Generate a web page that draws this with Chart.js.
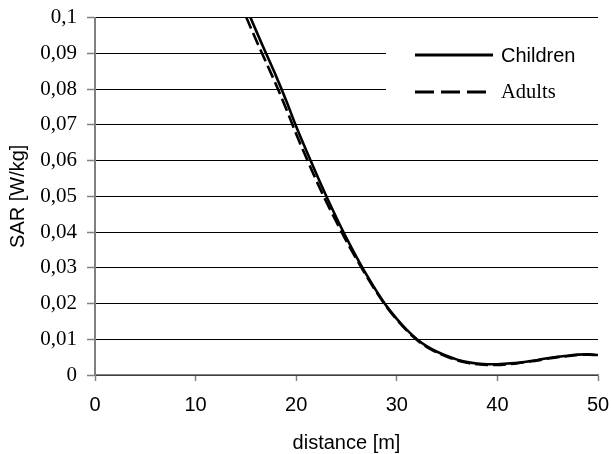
<!DOCTYPE html>
<html lang="en">
<head>
    <meta charset="UTF-8">
    <title>SAR vs distance</title>
    <script src="https://cdn.jsdelivr.net/npm/chart.js"></script>
    <style>
        html, body {
            margin: 0;
            padding: 0;
            background: #fff;
        }
        #wrap {
            width: 611px;
            height: 454px;
        }
    </style>
</head>
<body>
    <div id="wrap"><canvas id="sarChart"></canvas></div>

    <script>
        // values
        const distance = [15, 16, 17, 18, 19, 20, 21, 22, 23, 24, 25, 26, 27, 28, 29, 30, 31, 32,
                          33, 34, 35, 36, 37, 38, 39, 40, 41, 42, 43, 44, 45, 46, 47, 48, 49, 50];
        const children = [0.1030, 0.0964, 0.0900, 0.0836, 0.0768, 0.0695, 0.0628, 0.0563, 0.0500,
                          0.0440, 0.0383, 0.0330, 0.0280, 0.0234, 0.0192, 0.0157, 0.0126, 0.0100,
                          0.0080, 0.0065, 0.0053, 0.0043, 0.0036, 0.0032, 0.0030, 0.0030, 0.0032,
                          0.0034, 0.0038, 0.0042, 0.0047, 0.0051, 0.0054, 0.0057, 0.0058, 0.0056];
        const adults = [0.1003, 0.0938, 0.0875, 0.0812, 0.0745, 0.0674, 0.0608, 0.0544, 0.0484,
                        0.0428, 0.0374, 0.0324, 0.0276, 0.0231, 0.0190, 0.0155, 0.0124, 0.0098,
                        0.0078, 0.0063, 0.0051, 0.0041, 0.0034, 0.0030, 0.0028, 0.0028, 0.0030,
                        0.0033, 0.0037, 0.0041, 0.0046, 0.0050, 0.0053, 0.0056, 0.0057, 0.0055];
        const seriesNames = ['Children', 'Adults'];

        const toPoints = ys => distance.map((d, i) => ({ x: d, y: ys[i] }));

        // legend sits inside the plot on a white box, like the original
        const insideLegend = {
            id: 'insideLegend',
            afterDraw(chart) {
                const { ctx, chartArea } = chart;
                const boxLeft = 386;
                ctx.save();
                ctx.fillStyle = '#fff';
                ctx.fillRect(boxLeft, 36, chartArea.right - boxLeft + 1, 72);

                const fonts = ['20px "Liberation Sans"', '20.5px "Liberation Serif"'];
                const rows = [55, 92];
                const lineEnds = [493, 488];
                const dashes = [[], [19, 7]];
                chart.data.datasets.forEach((ds, i) => {
                    ctx.strokeStyle = ds.borderColor;
                    ctx.lineWidth = 3;
                    ctx.setLineDash(dashes[i]);
                    ctx.beginPath();
                    ctx.moveTo(415, rows[i]);
                    ctx.lineTo(lineEnds[i], rows[i]);
                    ctx.stroke();

                    ctx.setLineDash([]);
                    ctx.fillStyle = '#000';
                    ctx.font = fonts[i];
                    ctx.textBaseline = 'middle';
                    ctx.fillText(ds.label, 501, rows[i] + 1);
                });
                ctx.restore();
            }
        };

        const fmtComma = v => Number(v.toFixed(2)).toString().replace('.', ',');

        Chart.defaults.font.family = '"Liberation Sans", Arial, sans-serif';
        Chart.defaults.color = '#000';

        new Chart(document.getElementById('sarChart'), {
            type: 'line',
            data: {
                datasets: [
                    {
                        label: seriesNames[0],
                        data: toPoints(children),
                        borderColor: '#000',
                        borderWidth: 2.6,
                        pointRadius: 0,
                        cubicInterpolationMode: 'monotone',
                        clip: 0
                    },
                    {
                        label: seriesNames[1],
                        data: toPoints(adults),
                        borderColor: '#000',
                        borderWidth: 2.6,
                        borderDash: [13, 5],
                        pointRadius: 0,
                        cubicInterpolationMode: 'monotone',
                        clip: 0
                    }
                ]
            },
            options: {
                responsive: true,
                maintainAspectRatio: false,
                animation: false,
                layout: { padding: { top: 17.5, right: 13, left: 0, bottom: 0 } },
                plugins: {
                    legend: { display: false },
                    tooltip: { enabled: false }
                },
                scales: {
                    x: {
                        type: 'linear',
                        min: 0,
                        max: 50,
                        ticks: {
                            stepSize: 10,
                            padding: 12,
                            font: { size: 20 },
                            maxRotation: 0
                        },
                        grid: {
                            drawOnChartArea: false,
                            tickLength: 6,
                            tickColor: '#808080',
                            tickWidth: 1.5
                        },
                        border: { color: '#808080', width: 1.5 },
                        title: {
                            display: true,
                            text: 'distance [m]',
                            font: { size: 20, lineHeight: 1.1 },
                            padding: { top: 0, bottom: 0 }
                        },
                        afterFit(scale) {
                            scale.height = 79;
                            scale.paddingLeft = 0;
                            scale.paddingRight = 0;
                        }
                    },
                    y: {
                        type: 'linear',
                        min: 0,
                        max: 0.1,
                        ticks: {
                            stepSize: 0.01,
                            padding: 10,
                            font: { family: '"Liberation Serif", "Times New Roman", serif', size: 21 },
                            callback: v => fmtComma(v)
                        },
                        grid: {
                            color: '#000',
                            lineWidth: 1,
                            tickLength: 8,
                            tickColor: '#808080',
                            tickWidth: 1.5
                        },
                        border: { color: '#808080', width: 2 },
                        title: {
                            display: true,
                            text: 'SAR [W/kg]',
                            font: { size: 20, lineHeight: 1.1 },
                            padding: { top: 7, bottom: 0 }
                        },
                        afterFit(scale) {
                            scale.width = 95;
                            scale.paddingTop = 0;
                            scale.paddingBottom = 0;
                        }
                    }
                }
            },
            plugins: [insideLegend]
        });
    </script>
</body>
</html>
